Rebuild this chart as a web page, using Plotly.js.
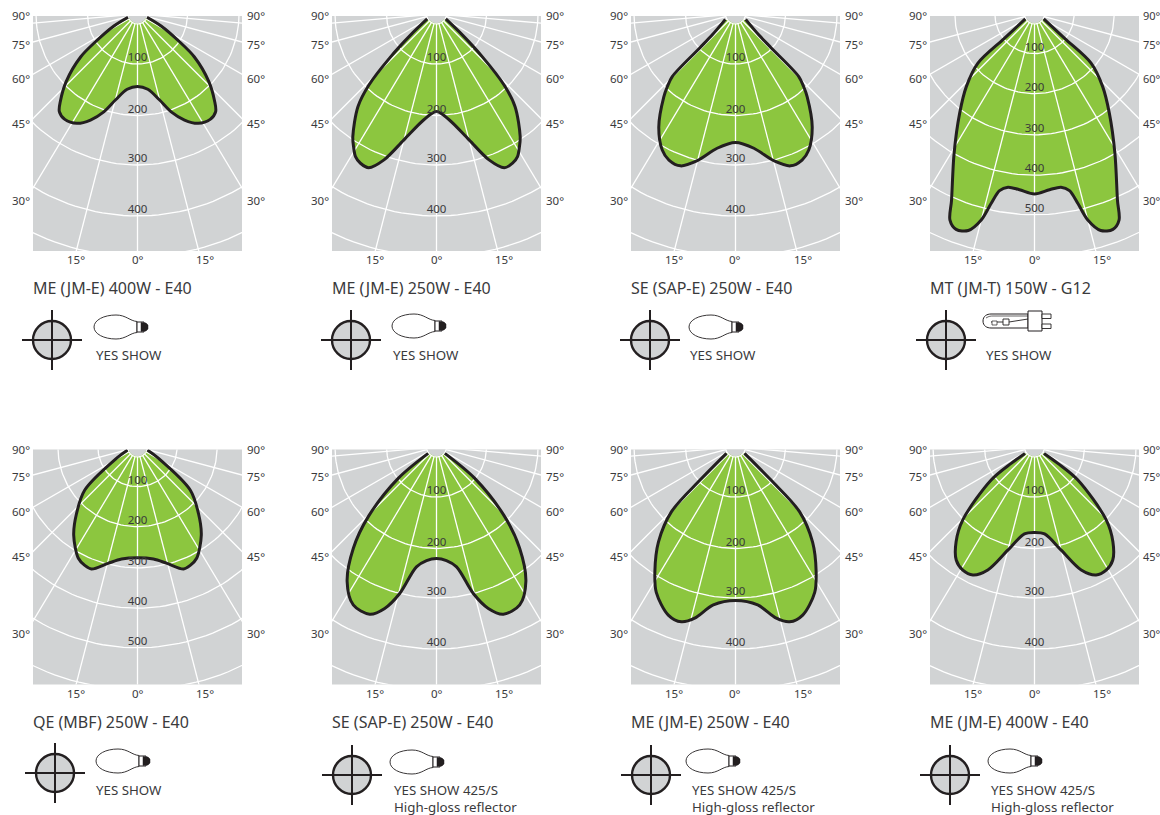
<!DOCTYPE html>
<html><head><meta charset="utf-8">
<script src="https://cdn.plot.ly/plotly-3.0.1.min.js"></script>
<style>html,body{margin:0;padding:0;background:#fff}#c{width:1160px;height:815px}</style>
</head><body><div id="c"></div>
<script>
// Polar intensity readings: angle from nadir (deg) and intensity (cd), one half of each symmetric curve
const angles1=[0,7.8,14.3,19,23.9,29,34.6,38.7,41.6,46.5,53,56.6,63,71];
const values1=[145,152,177,207,232,250,256,250,232,197,142,100,53,20];
const angles2=[0,6.8,14.5,19.8,23.8,27,29.6,32,34.3,40.3,43.6,47,51,62];
const values2=[195,213,260,310,336,335,328,313,297,243,196,125,67,21];
const angles3=[0,7.8,14.6,19.9,24.5,28.3,34.2,40.9,43.2,45.3,46.5,48,62];
const values3=[257,271,303,323,321,309,273,219,199,178,98,63,23];
const angles4=[0,4.9,8.7,11.2,12.9,14.5,17,20,22.3,24,30,37,43.2,49,51,62];
const values4=[450,441,438,450,486,532,566,573,557,510,402,311,249,188,97,26];
const angles5=[0,8.1,14.2,20.7,24,28,35.9,42.6,50.8,61.6,73];
const values5=[277,283,300,326,324,315,272,225,170,60,26];
const angles6=[0,5,9.5,14.1,17.8,21.8,27.8,33.6,39.4,44.4,50.7,52.8];
const values6=[223,228,243,302,339,360,357,323,262,195,99,21];
const angles7=[0,8,13.4,17.2,21.8,28.6,33,39,44.7,47,55];
const values7=[307,319,352,366,362,331,296,245,182,97,22];
const angles8=[0,6.6,14.5,20.8,25.7,30.2,34.7,39.6,44.5,52.7,55,55.8];
const values8=[171,175,213,263,284,285,275,246,205,109,57,23];

const titles=["ME (JM-E) 400W - E40","ME (JM-E) 250W - E40","SE (SAP-E) 250W - E40","MT (JM-T) 150W - G12",
 "QE (MBF) 250W - E40","SE (SAP-E) 250W - E40","ME (JM-E) 250W - E40","ME (JM-E) 400W - E40"];
const notes=["YES SHOW","YES SHOW","YES SHOW","YES SHOW","YES SHOW",
 "YES SHOW 425/S<br>High-gloss reflector","YES SHOW 425/S<br>High-gloss reflector","YES SHOW 425/S<br>High-gloss reflector"];
const ringsWide=[100,203,302,404,485];
const ringsFine=[99,199,302,403,502,606];
const ringLabelsWide=["100","200","300","400"];
const ringLabelsFine=["100","200","300","400","500"];
const sideLabels=["90°","75°","60°","45°","30°"];
const bottomLabels=["15°","0°","15°"];

const W=1160,H=815,GREEN='#8cc63f',GRAY='#d1d3d4',INK='#231f20',TXT='#3a3a3c',FONT='"Noto Sans",sans-serif';
const SP=[0,14.5,31,45,60,75];
const px=x=>x/W, py=y=>1-y/H;
const rad=d=>d*Math.PI/180;

const panels=[
 {a:angles1,v:values1,left:33,row:0,s:.5,extra:true, rings:ringsWide,labs:ringLabelsWide,cross:52,crossY:340,lamp:94,lampY:327,noteX:96},
 {a:angles2,v:values2,left:332,row:0,s:.5,extra:true, rings:ringsWide,labs:ringLabelsWide,cross:351,crossY:340,lamp:392,lampY:326,noteX:393},
 {a:angles3,v:values3,left:631,row:0,s:.5,extra:true, rings:ringsWide,labs:ringLabelsWide,cross:650,crossY:340,lamp:689,lampY:327,noteX:690},
 {a:angles4,v:values4,left:930,row:0,s:.4,extra:false,rings:ringsFine,labs:ringLabelsFine,cross:946,crossY:340,lamp:983,lampY:321,noteX:986,tube:true},
 {a:angles5,v:values5,left:33,row:1,s:.4,extra:false,rings:ringsFine,labs:ringLabelsFine,cross:55,crossY:773,lamp:96,lampY:761,noteX:96},
 {a:angles6,v:values6,left:332,row:1,s:.5,extra:true, rings:ringsWide,labs:ringLabelsWide,cross:352,crossY:775,lamp:390,lampY:762,noteX:394},
 {a:angles7,v:values7,left:631,row:1,s:.5,extra:true, rings:ringsWide,labs:ringLabelsWide,cross:651,crossY:775,lamp:686,lampY:761,noteX:692},
 {a:angles8,v:values8,left:930,row:1,s:.5,extra:true, rings:ringsWide,labs:ringLabelsWide,cross:950,crossY:775,lamp:988,lampY:761,noteX:991}
];

const traces=[],layout={width:W,height:H,margin:{l:0,r:0,t:0,b:0},paper_bgcolor:'#fff',plot_bgcolor:GRAY,showlegend:false,
  annotations:[],shapes:[],hovermode:false};

function note(x,y,text,size,anchor,valign){
  layout.annotations.push({xref:'paper',yref:'paper',x:px(x),y:py(y),text:text,showarrow:false,
    xanchor:anchor,yanchor:valign||'middle',align:anchor,font:{family:FONT,size:size,color:TXT},borderpad:0,borderwidth:0});
}
function pathOf(ox,oy,cmds){ // cmds in local pixels
  return cmds.map(c=>typeof c==='string'?c:(px(ox+c[0])+','+py(oy+c[1]))).join(' ');
}
function shape(ox,oy,cmds,fill,lw){
  layout.shapes.push({type:'path',xref:'paper',yref:'paper',path:pathOf(ox,oy,cmds),fillcolor:fill,line:{color:INK,width:lw}});
}
function bulb(x,y){
  shape(x,y,['M',[0,0],'C',[0,-7],[10,-12],[22,-12],'C',[32,-12],[36,-6],[43,-5.5],'L',[43,5.5],'C',[36,6],[32,12],[22,12],'C',[10,12],[0,7],[0,0],'Z'],'#fff',.9);
  shape(x,y,['M',[43,-5],'L',[50,-5],'L',[50,5],'L',[43,5],'Z'],'#fff',1);
  shape(x,y,['M',[47,-4.5],'L',[52,-4],'L',[54,-2],'L',[54,2],'L',[52,4],'L',[47,4.5],'Z'],INK,.5);
}
function tube(x,y){
  shape(x,y,['M',[0,0],'C',[0,-5],[4,-7],[8,-7],'L',[45,-7],'L',[45,7],'L',[8,7],'C',[4,7],[0,5],[0,0],'Z'],'#fff',1);
  shape(x,y,['M',[3,-3],'C',[6,-5],[8,-5],[10,-5],'L',[45,-5]],'rgba(0,0,0,0)',.7);
  shape(x,y,['M',[8,1],'L',[20,1]],'rgba(0,0,0,0)',.9);
  shape(x,y,['M',[9,4],'L',[14,4],'L',[14,0],'L',[9,0],'Z'],'#fff',.7);
  shape(x,y,['M',[20,-2],'L',[26,-2],'L',[26,4],'L',[20,4],'Z'],'#fff',.9);
  shape(x,y,['M',[26,1],'L',[45,-2]],'rgba(0,0,0,0)',.9);
  shape(x,y,['M',[45,-10],'L',[59,-10],'L',[59,10],'L',[45,10],'Z'],'#fff',1);
  shape(x,y,['M',[59,-7],'L',[68,-7],'L',[68,-2.5],'L',[59,-2.5],'Z'],'#fff',.9);
  shape(x,y,['M',[59,3],'L',[68,3],'L',[68,7.5],'L',[59,7.5],'Z'],'#fff',.9);
}

panels.forEach((p,i)=>{
  const n=i+1, top=p.row?449.5:16, bottom=p.row?684.5:251, cy=p.row?447:14, dy=p.row?433:0;
  const left=p.left,right=left+209,cx=left+104.5, s=p.s;
  const xa='xaxis'+n, ya='yaxis'+n, xr='x'+n, yr='y'+n;
  layout[xa]={domain:[px(left),px(right)],range:[-104.5/s,104.5/s],visible:false,fixedrange:true};
  layout[ya]={domain:[py(bottom),py(top)],range:[-(bottom-cy)/s,-(top-cy)/s],visible:false,fixedrange:true};
  const base={xaxis:xr,yaxis:yr,hoverinfo:'skip'};
  // curve, mirrored about 0 deg
  const cxs=[],cys=[];
  for(let k=p.a.length-1;k>0;k--){cxs.push(-p.v[k]*Math.sin(rad(p.a[k])));cys.push(-p.v[k]*Math.cos(rad(p.a[k])));}
  for(let k=0;k<p.a.length;k++){cxs.push(p.v[k]*Math.sin(rad(p.a[k])));cys.push(-p.v[k]*Math.cos(rad(p.a[k])));}
  traces.push({...base,type:'scatter',mode:'lines',x:cxs,y:cys,fill:'toself',fillcolor:GREEN,line:{width:0,shape:'spline',smoothing:.9,color:GREEN}});
  // grid
  const hub=10/s;
  const sp=p.extra?SP.concat([85]):SP;
  sp.forEach(d=>{[1,-1].forEach(sign=>{
    if(d===0&&sign<0)return;
    traces.push({...base,type:'scatter',mode:'lines',x:[sign*hub*Math.sin(rad(d)),sign*900*Math.sin(rad(d))],y:[-hub*Math.cos(rad(d)),-900*Math.cos(rad(d))],
      line:{color:'#fff',width:1.3}});
  });});
  [hub].concat(p.rings).forEach(r=>{
    const xs=[],ys=[];
    for(let d=-90;d<=90;d+=2){xs.push(r*Math.sin(rad(d)));ys.push(-r*Math.cos(rad(d)));}
    traces.push({...base,type:'scatter',mode:'lines',x:xs,y:ys,line:{color:'#fff',width:1.3}});
  });
  // outline
  traces.push({...base,type:'scatter',mode:'lines',x:cxs,y:cys,line:{color:INK,width:3,shape:'spline',smoothing:.9}});
  // hub disc
  const hx=[],hy=[];
  for(let d=0;d<=360;d+=10){hx.push(hub*.92*Math.sin(rad(d)));hy.push(hub*.92*Math.cos(rad(d)));}
  traces.push({...base,type:'scatter',mode:'lines',x:hx,y:hy,fill:'toself',fillcolor:GRAY,line:{width:0,color:GRAY}});
  // ring labels
  traces.push({...base,type:'scatter',mode:'text',x:p.labs.map(()=>0),y:p.labs.map((t,k)=>-p.rings[k]),text:p.labs,
    textposition:'top center',textfont:{family:FONT,size:11.5,color:TXT}});
  // side labels
  const edge=right>1100;
  [16,44,78,123,200].forEach((y,k)=>{
    note(left-3,y+dy,sideLabels[k],11.5,'right');
    note(edge?right+4:right+5,y+dy,sideLabels[k],edge?11:11.5,'left');
  });
  [cx-62,cx,cx+67].forEach((x,k)=>note(x,260+dy,bottomLabels[k],11.5,'center'));
  // title
  note(left,(p.row?722:288),titles[i],16,'left');
  // cross mark
  const c=p.cross,cyy=p.crossY;
  layout.shapes.push({type:'circle',xref:'paper',yref:'paper',x0:px(c-19),x1:px(c+19),y0:py(cyy+19),y1:py(cyy-19),fillcolor:GRAY,line:{color:INK,width:2.4}});
  layout.shapes.push({type:'line',xref:'paper',yref:'paper',x0:px(c-30),x1:px(c+30),y0:py(cyy),y1:py(cyy),line:{color:INK,width:2}});
  layout.shapes.push({type:'line',xref:'paper',yref:'paper',x0:px(c),x1:px(c),y0:py(cyy-30),y1:py(cyy+30),line:{color:INK,width:2}});
  if(p.tube)tube(p.lamp,p.lampY);else bulb(p.lamp,p.lampY);
  // note
  note(p.noteX,(p.row?780.5:346),notes[i],13.3,'left','top');
});
Plotly.newPlot('c',traces,layout,{displayModeBar:false,staticPlot:true});
</script></body></html>
